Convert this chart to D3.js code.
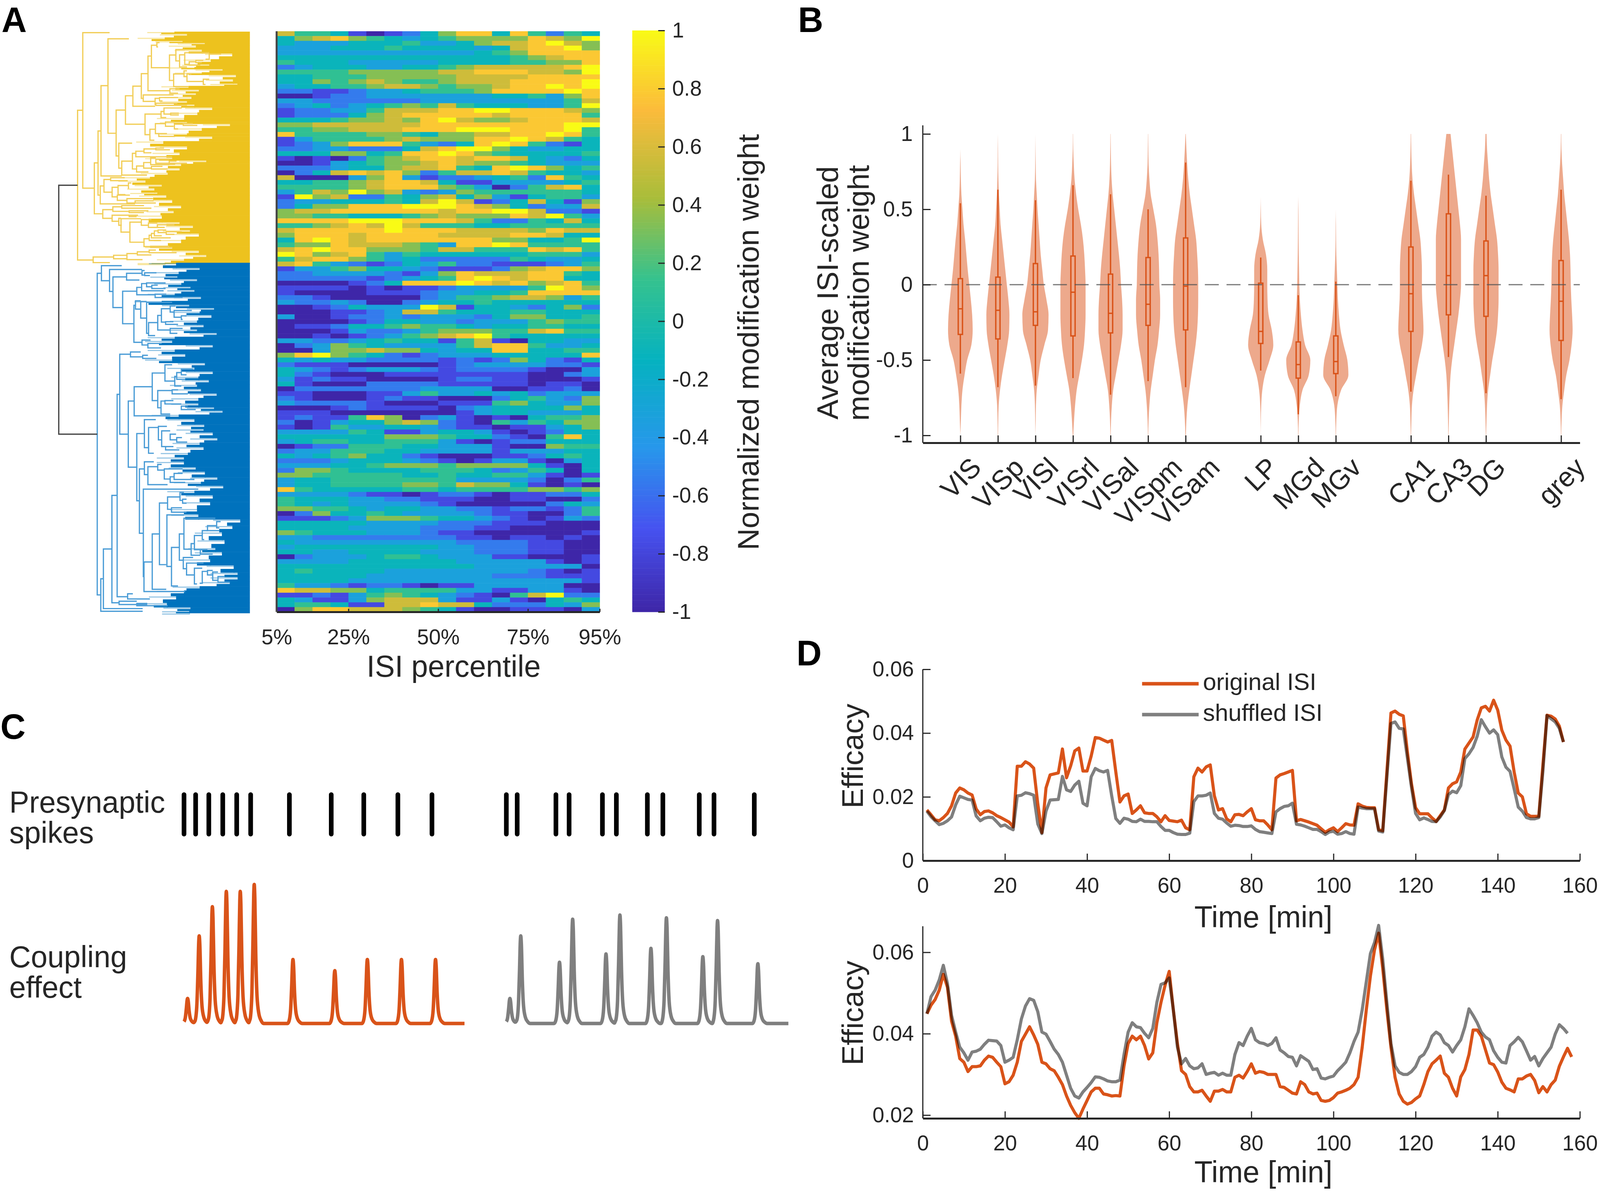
<!DOCTYPE html>
<html lang="en">
<head>
<meta charset="UTF-8">
<title>ISI modification weight figure</title>
<script src="https://cdnjs.cloudflare.com/ajax/libs/d3/7.8.5/d3.min.js"></script>
<style>
  html, body { margin: 0; background: #fff; overflow: hidden; }
  svg { display: block; }
  text { font-family: "Liberation Sans", Arial, sans-serif; }
</style>
</head>
<body>
<script>
// ---- panel A: heatmap, one string per row, one digit per ISI bin (0 = -1 ... 9 = +1)
var heatPercentiles = [5, 10, 15, 20, 25, 30, 35, 40, 45, 50, 55, 60, 65, 70, 75, 80, 85, 90];
var heatRows = [
  "755410124688485254", "467865434566668769", "433344453346778976", "333444544443478896",
  "333333333334568888", "444444444444456788", "544433333444455668", "234443344567777789",
  "555566666778887769", "445556666677778888", "446567655677788889", "344556776566788989",
  "221123345556888898", "001223333333445368", "332222223333333357", "234234565754443359",
  "122335777889988876", "122246788888788885", "444566768976678887", "667777778888888899",
  "556677788899988895", "855556654667788985", "135555676668898754", "123688853248985214",
  "223322247899643344", "444664588986544445", "101025678878874324", "001345667876654333",
  "222344677854898645", "024787862577875443", "700036831223452854", "445567887411333345",
  "555567888653025784",
  "357696732365555554", "196722546746314553", "233444547971247416", "246688899987642337",
  "677888888788997221", "665544456766687953", "888899988875225474", "556787975554455555",
  "788888988877776877", "688878888777788744", "489878888888664459", "566877765388985555",
  "789886665775558785", "986785354444445553", "578865342222254334", "785321243522111235",
  "133564432111267886", "223333213687778854", "222221234589878844", "000012488898786785",
  "111101011233335986", "100001112334458888", "221000002355677635", "322320023445444444",
  "001243339714432462", "000112377544455444", "300122323332466445", "000012443323335655",
  "011244565543445544", "000132235666557855",
  "001012356789544444", "332234544157104433", "023654333357885334", "003667664344884455",
  "689654212333444448", "434332222121264214", "211100000123333221", "432123332122221003",
  "421000111111110023", "312110000122110001", "410002222111110110", "022222223333001120",
  "110001135334342333", "210001211000245326", "322221000111564336", "000121111023444464",
  "111000000013443334", "121158602310104556", "201344676210535466", "101533443211011346",
  "333354113443101244", "444444666544210584", "345544555310122444", "012255544333100655",
  "233555443333133344", "434564421000112454", "222344432101331034", "333445666566664104",
  "266544445554235404", "665555544544553101",
  "344555555533332025", "344555566576641010", "854444455455556656", "333321101221011224",
  "544433221110011002", "543433332100000243", "665543443322122125", "026445433332110025",
  "111236665443210132", "444443333222111000", "444433332221100000", "654443332110000001",
  "332222222211011010", "433333333322221100", "344444444332221100", "443344443332221100",
  "023334554333110001", "333344444433333101", "444444444443333330", "454444333333332101",
  "444443333333222111", "444433333333333331", "533212210113333300", "877664555533113310",
  "112135654321057922", "431136777311310454", "455411778774222436", "068877765410011103"
];
var heatTicks = [5, 25, 50, 75, 95];
var colorbarTicks = [1, 0.8, 0.6, 0.4, 0.2, 0, -0.2, -0.4, -0.6, -0.8, -1];
var parulaPos = [0, 0.14, 0.28, 0.43, 0.57, 0.71, 0.86, 1];
var parulaStops = ["#3E26A8", "#4652F0", "#2797EB", "#05B2C0", "#35C28E", "#A9BD3A", "#FBBB3B", "#F9FB15"];

// dendrogram links: [join, upper leaf, upper child, lower leaf, lower child], in picture-read tree units
var yellowLinks = [
  [262,498,297,1357,367],[297,53,478,945,375],[375,800,400,1092,432],[400,617,420,985,415],[420,357,467,875,560],
  [467,88,608,630,522],[522,497,585,760,540],[585,415,635,578,717],[635,360,692,475,785],[692,288,737,430,705],
  [737,187,760,386,885],[760,125,797,254,882],[797,110,815,135,805],[882,181,925,327,910],[925,150,985,215,950],
  [950,180,985,250,1000],[985,168,1150,235,1015],[910,290,980,362,1010],[980,272,1000,305,1000],[1000,290,1030,333,1110],
  [1110,320,1150,350,1125],[1015,220,1060,238,1090],[1060,212,1110,225,1100],[1150,175,1230,205,1125],
  [885,375,950,400,940],[705,410,910,447,785],[785,430,815,465,790],[815,425,940,445,835],[790,458,935,470,1000],
  [717,520,825,638,750],[825,505,845,540,860],[845,485,965,520,890],[890,515,945,525,945],[750,607,787,670,780],
  [787,575,855,632,810],[855,565,915,590,910],[915,578,975,605,940],[975,575,1040,585,1070],[810,632,865,648,920],
  [540,687,630,830,560],[560,790,632,870,730],[632,745,655,835,660],[655,733,710,765,900],[710,720,790,742,760],
  [790,715,845,725,885],[660,818,708,852,740],[708,798,755,830,760],[755,772,790,810,880],[790,780,880,802,1000],
  [880,790,930,808,920],[760,820,835,835,870],[415,932,440,1035,650],[440,895,485,968,495],[485,885,580,902,600],
  [495,940,535,995,530],[535,930,605,982,585],[605,915,625,945,610],[530,985,615,1015,595],[595,1005,770,1030,650],
  [650,1018,775,1030,790],[432,1068,500,1118,495],[500,1052,560,1078,610],[560,1045,710,1060,760],[610,1075,740,1085,710],
  [495,1100,610,1135,540],[610,1100,670,1108,660],[540,1118,555,1158,560],[555,1120,690,1197,615],[692,1125,760,1158,740],
  [740,1145,800,1170,810],[800,1155,915,1170,850],[615,1140,692,1255,710],[710,1235,745,1280,755],[745,1215,760,1245,825],
  [760,1205,780,1230,890],[780,1190,805,1218,830],[805,1185,860,1200,860],[860,1195,965,1210,915],[755,1278,880,1285,900],
  [367,1340,505,1372,480],[505,1330,595,1350,595],[595,1320,665,1355,700],[665,1310,745,1328,760],[745,1300,790,1315,930]
];
var blueLinks = [
  [358,52,390,1487,385],[390,18,545,85,452],[452,35,700,133,478],[478,68,582,205,552],[582,52,700,82,680],
  [700,40,720,60,715],[720,50,810,62,760],[552,132,660,277,638],[660,115,697,148,800],[697,98,735,130,865],
  [735,95,880,112,775],[775,105,820,120,880],[800,145,885,160,1010],[638,195,650,360,700],[650,175,690,212,690],
  [690,178,735,252,735],[735,182,930,320,750],[750,272,820,330,800],[820,240,848,305,915],[848,210,915,270,880],
  [915,198,955,225,945],[945,218,1080,248,1000],[1000,242,1040,258,1010],[880,268,940,280,975],[915,298,1010,320,970],
  [700,350,765,372,745],[745,365,850,385,845],[385,1415,405,1560,705],[405,1282,470,1548,705],[470,1043,510,1522,525],
  [510,592,530,1495,590],[530,413,612,770,595],[612,403,690,425,705],[705,418,745,432,810],[595,622,640,917,660],
  [640,558,778,688,915],[778,497,875,620,820],[875,460,930,533,950],[950,512,965,555,1000],[965,495,1000,525,1030],
  [1000,480,1090,505,1040],[820,575,930,652,845],[930,572,975,590,1050],[845,622,875,680,915],[875,620,940,635,1000],
  [1000,645,1050,660,1110],[660,767,718,1067,680],[718,705,805,830,750],[750,740,825,855,790],[825,735,890,795,850],
  [850,755,915,825,880],[915,770,960,795,965],[965,785,1005,805,1045],[880,825,940,840,985],[680,925,718,1212,710],
  [718,893,790,950,745],[745,915,820,995,895],[820,905,850,930,870],[870,925,1010,970,915],[915,960,945,985,1030],
  [945,945,1010,972,1100],[710,1015,1130,1405,715],[715,1340,778,1472,1030],[778,1215,833,1462,885],[833,1077,895,1352,885],
  [895,1050,990,1105,925],[990,1030,1020,1065,1010],[1010,1060,1040,1078,1040],[925,1098,1005,1118,1040],[890,1130,1020,1360,925],
  [925,1275,985,1447,975],[985,1215,1020,1332,1015],[1020,1145,1260,1283,1075],[1075,1258,1100,1310,1145],[1100,1222,1160,1285,1160],
  [1160,1200,1200,1240,1175],[1200,1178,1270,1200,1290],[1270,1160,1300,1188,1290],[1145,1285,1200,1305,1240],[1015,1320,1090,1370,1040],
  [1040,1345,1170,1398,1100],[1100,1368,1160,1438,1120],[1160,1382,1200,1435,1140],[1200,1378,1240,1398,1240],[1240,1385,1280,1422,1280],
  [1280,1405,1330,1430,1370],[590,1482,630,1505,760],[525,1515,660,1530,740],[660,1525,740,1535,895]
];
// where the leaves close up into solid colour: [leaf, tree depth]
var yellowFan = [[47,915],[60,1000],[80,850],[100,970],[112,1120],[125,1060],[150,1100],[172,1305],[205,1160],[235,1150],[250,1050],
  [262,1240],[280,1100],[295,1330],[320,1310],[345,1340],[358,1010],[380,1080],[400,1060],[420,1030],[445,1000],[465,1050],[482,1170],
  [510,1070],[540,980],[565,1000],[576,1290],[600,1100],[630,1000],[648,1170],[675,840],[705,1000],[740,950],[770,900],[786,1130],
  [805,960],[830,950],[855,870],[880,750],[900,720],[925,830],[945,780],[970,800],[985,860],[1012,900],[1045,960],[1075,910],[1100,830],
  [1140,950],[1160,1040],[1185,1020],[1205,1080],[1240,960],[1280,900],[1303,1080],[1328,1130],[1350,980],[1372,850],[1378,850]];
var blueFan = [[5,960],[28,1140],[45,980],[65,970],[78,1120],[95,1000],[112,1070],[126,1100],[142,950],[157,1150],[175,850],[192,1060],
  [207,1250],[222,1140],[238,1230],[262,1120],[282,1170],[302,1120],[318,1270],[335,950],[352,930],[372,1240],[392,950],[412,1030],
  [435,930],[452,1180],[472,1100],[490,1240],[512,1130],[528,1210],[548,1120],[568,1150],[588,1270],[608,1130],[632,1130],[650,1250],
  [665,1315],[682,980],[702,1100],[727,1175],[747,1170],[762,1240],[787,1275],[807,1140],[827,1170],[852,1050],[872,1020],[892,1020],
  [917,1110],[937,1180],[962,1275],[982,1150],[1000,1320],[1022,1100],[1042,1240],[1072,1220],[1102,1120],[1127,1130],[1150,1450],
  [1178,1390],[1207,1310],[1242,1330],[1277,1260],[1295,1310],[1327,1220],[1355,1400],[1387,1430],[1407,1430],[1428,1370],[1448,1140],
  [1467,1020],[1492,960],[1522,890],[1542,1070],[1558,1060],[1568,1060]];
// joins between the two clusters: [tree depth, leaf] in the yellow and the blue tree units
var rootJoinYellow = [262, 928], rootJoinBlue = [358, 770], rootStem = 135;

// ---- panel B
var regions = ["VIS", "VISp", "VISl", "VISrl", "VISal", "VISpm", "VISam", "LP", "MGd", "MGv", "CA1", "CA3", "DG", "grey"];
var regionPos = [1, 2, 3, 4, 5, 6, 7, 9, 10, 11, 13, 14, 15, 17];
var weightTicks = [-1, -0.5, 0, 0.5, 1];
var weightGrid = [1, .9, .8, .7, .6, .5, .4, .3, .2, .1, 0, -.1, -.2, -.3, -.4, -.5, -.6, -.7, -.8, -.9, -1];
var violinVIS   = [0, 0, .5, 1, 2, 4, 6, 9, 11.5, 14, 17, 20, 22.5, 23.5, 21, 13, 8, 4, 2, 1, 0];
var violinVISp  = [0, .3, .5, 1, 2, 3.5, 5, 8, 11, 14, 17, 20, 22, 21.5, 18, 13, 8, 4, 1.5, .7, .3];
var violinVISl  = [0, .2, .5, 1, 2.5, 4, 6, 8, 10, 13, 16, 21, 25, 24, 17, 10, 6, 2.5, 1, .5, 0];
var violinVISrl = [.2, .5, 1.5, 3, 6, 10, 15, 19, 21.5, 23, 24, 24, 24, 23, 21, 17, 12, 7, 4, 2, .5];
var violinVISal = [.2, .5, 1, 2, 4, 7, 10, 13, 16, 18.5, 20, 22, 23, 23, 20, 15, 10, 5, 2.5, 1, .3];
var violinVISpm = [.2, .5, 1, 2.5, 5, 10, 15, 18, 20, 21, 21.5, 23, 23, 21, 18, 13, 9, 5, 2.5, 1, .3];
var violinVISam = [.3, 1.5, 3, 5, 8, 12, 16, 20, 22, 23.5, 24, 24, 23.5, 22, 19, 15, 11, 7, 3.5, 1.5, .5];
var violinLP    = [0, 0, 0, 0, 0, .3, 1, 4, 10, 12.5, 12.5, 13, 15, 21, 24, 17, 8, 3, 1, .3, 0];
var violinMGd   = [0, 0, 0, 0, 0, .3, .5, .7, 1, 1.5, 2, 3, 5, 8, 13, 23, 20, 8, 3, 1, .3];
var violinMGv   = [0, 0, 0, 0, 0, 0, .3, .5, 1, 2, 3, 4, 6, 9, 15, 22, 24, 10, 3, 1, .3];
var violinCA1   = [.3, .7, 1.5, 3, 6, 10, 14, 18, 20, 21, 21, 21.5, 23, 24, 21, 15, 10, 5, 2, 1, .3];
var violinCA3   = [4, 7, 10, 13, 16, 19, 22, 24, 24, 24, 24, 22, 19, 15, 11, 7, 4, 2.5, 1.5, .8, .3];
var violinDG    = [1, 2, 4, 6, 9, 13, 17, 21, 23, 24, 24, 24, 23, 21, 17, 12, 8, 4, 2, 1, .3];
var violingrey  = [.3, .7, 2, 4, 6, 9, 12, 15, 17, 18, 18.5, 19.5, 21, 22, 20, 16, 10, 6, 2.5, 1, .3];
var violins = [violinVIS, violinVISp, violinVISl, violinVISrl, violinVISal, violinVISpm, violinVISam,
  violinLP, violinMGd, violinMGv, violinCA1, violinCA3, violinDG, violingrey];
var boxQ3     = [.04, .05, .14, .19, .07, .18, .31, .01, -.38, -.34, .25, .47, .29, .16];
var boxMedian = [-.16, -.17, -.18, -.05, -.19, -.13, -.01, -.31, -.53, -.51, -.06, .06, .06, -.11];
var boxQ1     = [-.33, -.36, -.27, -.34, -.32, -.27, -.30, -.39, -.62, -.59, -.31, -.20, -.21, -.37];
var whiskLow  = [-.59, -.68, -.67, -.62, -.73, -.64, -.68, -.57, -.86, -.74, -.71, -.48, -.72, -.76];
var whiskHigh = [.54, .63, .56, .66, .60, .50, .81, .18, -.07, .02, .69, .73, .59, .63];

// ---- panel C, times in ms
var spikesBurst   = [0, 7.5, 16, 25, 34, 43, 68, 95, 116, 138, 160];
var spikesShuffle = [208, 215, 240, 248.5, 270, 279, 299, 309, 332.5, 342, 368];
var couplingBurst   = [.18, .63, .84, .95, .95, 1, .46, .38, .46, .46, .46];
var couplingShuffle = [.18, .63, .44, .75, .50, .78, .54, .76, .48, .74, .43];
var kernelTime  = [-3.5, -2.5, -1.5, -.8, -.3, 0, .4, 1, 1.8, 3, 4.5, 6];
var kernelShape = [0, .04, .22, .6, .93, 1, .9, .5, .2, .07, .02, 0];

// ---- panel D, one value per minute from minute 1
var effOrigTop = [.0159,.0144,.0128,.0125,.0135,.0148,.0172,.0212,.0228,.0222,.0212,.0206,.0162,.0144,.0154,.0156,.015,.0141,.0135,.0128,
  .0121,.0106,.0296,.0296,.031,.0303,.029,.0178,.0088,.0228,.0269,.0272,.0275,.035,.026,.0297,.0344,.0353,.0281,.0281,
  .0328,.0386,.0384,.0378,.0372,.0377,.0278,.0184,.0203,.0209,.0148,.0159,.0172,.015,.0148,.0148,.01375,.0122,.0141,.0126,
  .0124,.0122,.0127,.0103,.0097,.0263,.029,.0278,.0294,.03,.0203,.0159,.0163,.0131,.0122,.0144,.0145,.0141,.0153,.0163,
  .0128,.0125,.0125,.0112,.0097,.0259,.0269,.0273,.0278,.0283,.0125,.0129,.0125,.0121,.0116,.0111,.01,.0089,.0097,.0103,
  .0091,.0103,.0116,.0112,.0111,.0178,.0171,.0167,.0166,.0166,.0097,.0094,.0278,.0463,.0469,.0459,.0454,.0341,.0241,.0166,
  .0147,.0147,.0147,.0134,.0123,.0141,.0159,.0228,.0241,.0247,.0278,.035,.0369,.0388,.0441,.0479,.0484,.0469,.0503,.0472,
  .0409,.0378,.0359,.0278,.0212,.02,.0147,.0139,.0139,.0139,.03,.0456,.0453,.0444,.0422,.0372];
var effShufTop = [.0155,.0138,.0125,.0113,.0117,.0125,.0137,.0175,.0202,.0197,.0192,.019,.014,.0125,.0133,.0136,.0135,.0122,.0108,.0112,
  .0103,.0097,.0203,.0205,.0213,.021,.0205,.0115,.0085,.0155,.019,.0191,.0192,.0264,.0222,.0217,.0237,.0249,.018,.0172,
  .0263,.0289,.0282,.0278,.0283,.0203,.0132,.0117,.0133,.013,.0123,.0122,.013,.0123,.0123,.0122,.0122,.0107,.0095,.0095,
  .0088,.0083,.0082,.0082,.0086,.0185,.0203,.0203,.0205,.0212,.0148,.0133,.013,.0118,.0108,.0111,.011,.0107,.0107,.0109,
  .0098,.0091,.0089,.0087,.0085,.0153,.0163,.017,.0172,.018,.0114,.0112,.0108,.0103,.0098,.0098,.0091,.0082,.009,.0092,
  .0083,.0085,.0091,.0085,.0083,.0168,.0165,.0163,.0163,.0163,.0093,.009,.026,.043,.0435,.0415,.0413,.0322,.023,.0148,
  .0128,.0134,.0129,.0123,.0122,.0137,.0157,.0207,.0218,.0213,.0235,.032,.0335,.0355,.039,.0442,.042,.04,.041,.0395,
  .0325,.0293,.028,.0225,.0168,.0155,.0135,.0131,.0131,.0135,.028,.0455,.0445,.0435,.0415,.0372];
var effOrigBottom = [.0449,.047,.0484,.0507,.0546,.0514,.0431,.0394,.0339,.033,.0307,.0319,.0319,.0321,.0335,.0345,.0342,.033,.0319,.0277,
  .0282,.0298,.033,.0381,.0399,.0417,.0397,.0374,.033,.0326,.0314,.0309,.0293,.0275,.0247,.0224,.0206,.0192,.0215,.0236,
  .0257,.0266,.0266,.0252,.025,.0247,.0248,.0247,.0321,.0376,.0394,.0385,.0394,.0371,.0338,.0353,.0427,.0477,.0519,.0553,
  .0459,.0376,.0309,.03,.027,.0257,.0257,.0261,.0247,.0234,.0259,.0259,.0263,.0257,.0257,.0293,.0298,.0291,.0307,.0326,
  .0303,.0307,.0305,.03,.03,.03,.027,.0268,.0261,.0254,.0252,.0282,.0275,.0257,.0252,.0254,.0236,.0234,.0236,.0243,
  .0254,.0257,.0261,.0266,.0275,.0293,.0367,.0459,.0542,.0606,.0647,.056,.0459,.0367,.0293,.0252,.0234,.0227,.0231,.024,
  .0247,.0275,.0307,.0326,.0335,.0345,.0303,.0293,.0266,.0247,.0294,.0312,.0349,.0409,.0409,.0394,.0361,.0328,.0324,.0306,
  .0281,.0266,.0262,.0257,.0289,.0289,.0296,.03,.0285,.0255,.027,.0257,.0275,.0286,.032,.0343,.0364,.0343];
var effShufBottom = [.0449,.0491,.0507,.0532,.0568,.0523,.0445,.0404,.0367,.0353,.0335,.0355,.0357,.0362,.0374,.0384,.0383,.0382,.0371,.033,
  .0335,.0342,.0385,.0436,.0468,.0486,.0482,.0454,.0404,.0399,.0381,.0362,.0349,.033,.0298,.0266,.0247,.0242,.0257,.0268,
  .028,.0294,.0293,.0289,.0284,.0282,.0282,.0286,.0349,.0404,.0427,.0417,.0415,.0401,.039,.0413,.0477,.0521,.0525,.0537,
  .0459,.0367,.0326,.0339,.0321,.0314,.0316,.0326,.03,.0303,.0305,.0298,.0303,.0298,.0298,.0349,.0378,.0371,.0394,.0413,
  .0385,.0378,.0376,.0371,.0376,.039,.036,.0353,.0344,.0342,.0321,.0346,.0339,.0332,.0312,.0314,.0291,.0289,.0293,.0296,
  .0309,.0319,.033,.0353,.0381,.0404,.0459,.0528,.0597,.0624,.0666,.0583,.0477,.0376,.0321,.0305,.03,.03,.0307,.0319,
  .0342,.0349,.0367,.0394,.0404,.0397,.0378,.0371,.0355,.0371,.0385,.0417,.0461,.0445,.0427,.0404,.0392,.0385,.0358,.0342,
  .033,.0328,.0371,.038,.0391,.038,.0358,.0335,.0344,.0321,.0339,.0353,.0367,.0399,.0422,.0413,.0401];
var timeTicks = [0, 20, 40, 60, 80, 100, 120, 140, 160];
var efficacyTicksTop = [0, 0.02, 0.04, 0.06];
var efficacyTicksBottom = [0.02, 0.04, 0.06];
var legendLabels = ["original ISI", "shuffled ISI"];

var orange = "#D95319", gray = "#7F7F7F", ink = "#262626";
var tickFont = 55, labelFont = 77;

// the browser window can come out narrower than asked for, so fit the 4130x3050 layout to it
var svg = d3.select("body").append("svg")
  .attr("width", window.innerWidth).attr("height", window.innerHeight)
  .attr("viewBox", "0 0 4130 3050").attr("preserveAspectRatio", "none");
svg.append("rect").attr("width", 4130).attr("height", 3050).attr("fill", "#fff");

function styleAxis(g, width) {
  g.attr("font-size", tickFont).attr("font-family", null);
  g.selectAll("path").attr("stroke", ink).attr("stroke-width", width);
  g.selectAll("line").attr("stroke", ink).attr("stroke-width", 3);
  g.selectAll("text").attr("fill", ink);
}
function axisLabel(text, x, y, rotate) {
  svg.append("text").text(text).attr("font-size", labelFont).attr("fill", ink).attr("text-anchor", "middle")
    .attr("transform", "translate(" + x + "," + y + ")" + (rotate ? " rotate(-90)" : ""));
}
function panelLetter(text, x, y) {
  svg.append("text").text(text).attr("x", x).attr("y", y).attr("font-size", 90).attr("font-weight", "bold").attr("fill", "#000");
}
panelLetter("A", 4, 82);
panelLetter("B", 2060, 82);
panelLetter("C", 1, 1892);
panelLetter("D", 2056, 1704);

// ---- A: dendrogram
var yellowX = d3.scaleLinear().domain([0, 1568]).range([100, 700]);
var yellowY = d3.scaleLinear().domain([0, 1568]).range([60, 760]);
var blueX = d3.scaleLinear().domain([0, 1568]).range([130, 660]);
var blueY = d3.scaleLinear().domain([0, 1568]).range([670, 1570]);
var treeRight = 645;

function drawTree(links, fan, sx, sy, fill, lineColor) {
  var g = svg.append("g");
  var rows = d3.pairs(fan);
  // pale strands in front of the solid block
  g.selectAll("rect.strand").data(fan).enter().append("rect")
    .attr("x", function (d) { return sx(d[1]) - 70; })
    .attr("y", function (d) { return sy(d[0]) + 1; })
    .attr("width", 72).attr("height", 3).attr("fill", fill).attr("opacity", 0.4);
  g.selectAll("rect.fan").data(rows).enter().append("rect")
    .attr("x", function (d) { return sx(d[0][1]); })
    .attr("y", function (d) { return sy(d[0][0]); })
    .attr("width", function (d) { return treeRight - sx(d[0][1]); })
    .attr("height", function (d) { return sy(d[1][0]) - sy(d[0][0]) + 0.5; })
    .attr("fill", fill);
  // lower half of each row closes a little earlier, so the edge is jagged
  g.selectAll("rect.tongue").data(rows).enter().append("rect")
    .attr("x", function (d) { return sx(d[0][1]) - 34; })
    .attr("y", function (d) { return (sy(d[0][0]) + sy(d[1][0])) / 2; })
    .attr("width", 36)
    .attr("height", function (d) { return (sy(d[1][0]) - sy(d[0][0])) / 2 + 0.5; })
    .attr("fill", fill);
  var line = d3.line().x(function (p) { return sx(p[0]); }).y(function (p) { return sy(p[1]); });
  g.selectAll("path").data(links).enter().append("path")
    .attr("d", function (d) { return line([[d[2], d[1]], [d[0], d[1]], [d[0], d[3]], [d[4], d[3]]]); })
    .attr("fill", "none").attr("stroke", lineColor).attr("stroke-width", 3.2);
}
drawTree(yellowLinks, yellowFan, yellowX, yellowY, "#EDC21E", "#F2CE58");
drawTree(blueLinks, blueFan, blueX, blueY, "#0072BD", "#4A9CD6");
svg.append("path")
  .attr("d", d3.line()([
    [yellowX(rootJoinYellow[0]), yellowY(rootJoinYellow[1])],
    [yellowX(rootStem), yellowY(rootJoinYellow[1])],
    [yellowX(rootStem), blueY(rootJoinBlue[1])],
    [blueX(rootJoinBlue[0]), blueY(rootJoinBlue[1])]]))
  .attr("fill", "none").attr("stroke", "#444").attr("stroke-width", 3.2);

// ---- A: heatmap
var heatLeft = 714, heatRight = 1548, heatTop = 80, heatBottom = 1567;
var xPct = d3.scaleLinear().domain([5, 95]).range([heatLeft, heatRight]);
var yRow = d3.scaleBand().domain(d3.range(heatRows.length)).range([heatTop, heatBottom]);
var levelValue = d3.scaleLinear().domain([0, 9]).range([-1, 1]);
var parula = d3.scaleLinear().domain(parulaPos.map(function (p) { return -1 + 2 * p; })).range(parulaStops);

var rowG = svg.append("g").selectAll("g").data(heatRows).enter().append("g")
  .attr("transform", function (d, i) { return "translate(0," + yRow(i) + ")"; });
rowG.selectAll("rect").data(function (row) { return row.split("").map(Number); }).enter().append("rect")
  .attr("x", function (d, j) { return xPct(heatPercentiles[j]); })
  .attr("width", function (d, j) { return xPct(heatPercentiles[j] + 5) - xPct(heatPercentiles[j]) + 0.5; })
  .attr("height", yRow.bandwidth() + 0.5)
  .attr("fill", function (d) { return parula(levelValue(d)); });

var heatAxis = d3.axisBottom(xPct).tickValues(heatTicks).tickSize(-8).tickSizeOuter(0).tickPadding(44)
  .tickFormat(function (d) { return d + "%"; });
svg.append("g").attr("transform", "translate(0," + heatBottom + ")").call(heatAxis).call(styleAxis, 5);
svg.append("line").attr("x1", heatLeft).attr("x2", heatLeft).attr("y1", heatTop).attr("y2", heatBottom)
  .attr("stroke", "#444").attr("stroke-width", 5);
axisLabel("ISI percentile", 1171, 1733);

// ---- A: colorbar
var barY = d3.scaleLinear().domain([-1, 1]).range([1567, 78]);
var barLeft = 1632, barRight = 1716;
svg.append("g").selectAll("rect").data(d3.range(-1, 1, 0.01)).enter().append("rect")
  .attr("x", barLeft).attr("width", barRight - barLeft)
  .attr("y", function (d) { return barY(d + 0.01); })
  .attr("height", function (d) { return barY(d) - barY(d + 0.01) + 0.5; })
  .attr("fill", function (d) { return parula(d); });
var barAxis = d3.axisRight(barY).tickValues(colorbarTicks).tickSize(-17).tickPadding(19).tickFormat(String);
var barAxisG = svg.append("g").attr("transform", "translate(" + barRight + ",0)").call(barAxis).call(styleAxis, 0);
barAxisG.select("path").remove();
axisLabel("Normalized modification weight", 1958, 876, true);

// ---- B: violins
var xRegion = d3.scaleLinear().domain([0, 17.5]).range([2382, 4078]);
var yWeight = d3.scaleLinear().domain([-1, 1]).range([1115, 343]);
var halfWidth = d3.scaleLinear().domain([0, 24]).range([0, 32.5]);
var bAxisY = 1134, bAxisTop = 321;

var violinG = svg.append("g").selectAll("g").data(regions).enter().append("g")
  .attr("transform", function (d, i) { return "translate(" + xRegion(regionPos[i]) + ",0)"; });
var violinArea = d3.area()
  .y(function (d) { return yWeight(d.w); })
  .x0(function (d) { return -halfWidth(d.v); })
  .x1(function (d) { return halfWidth(d.v); })
  .curve(d3.curveMonotoneY);
violinG.append("path")
  .attr("d", function (d, i) {
    return violinArea(weightGrid.map(function (w, k) { return { w: w, v: violins[i][k] }; }));
  })
  .attr("fill", "#EDA98C");
violinG.append("line")
  .attr("y1", function (d, i) { return yWeight(whiskLow[i]); })
  .attr("y2", function (d, i) { return yWeight(whiskHigh[i]); })
  .attr("stroke", orange).attr("stroke-width", 3.5);
violinG.append("rect")
  .attr("x", -5.5).attr("width", 11)
  .attr("y", function (d, i) { return yWeight(boxQ3[i]); })
  .attr("height", function (d, i) { return yWeight(boxQ1[i]) - yWeight(boxQ3[i]); })
  .attr("fill", "#EDA98C").attr("stroke", orange).attr("stroke-width", 3.5);
violinG.append("line")
  .attr("x1", -5.5).attr("x2", 5.5)
  .attr("y1", function (d, i) { return yWeight(boxMedian[i]); })
  .attr("y2", function (d, i) { return yWeight(boxMedian[i]); })
  .attr("stroke", orange).attr("stroke-width", 3.5);

svg.append("line").attr("x1", xRegion(0)).attr("x2", xRegion(17.5)).attr("y1", yWeight(0)).attr("y2", yWeight(0))
  .attr("stroke", "#555").attr("stroke-opacity", 0.8).attr("stroke-width", 3).attr("stroke-dasharray", "36 20");

var bLeftG = svg.append("g").attr("transform", "translate(2382,0)")
  .call(d3.axisLeft(yWeight).tickValues(weightTicks).tickSize(-20).tickPadding(26).tickFormat(String))
  .call(styleAxis, 0);
bLeftG.select("path").remove();
svg.append("line").attr("x1", 2382).attr("x2", 2382).attr("y1", bAxisTop).attr("y2", bAxisY).attr("stroke", ink).attr("stroke-width", 3);

var bBottomG = svg.append("g").attr("transform", "translate(0," + bAxisY + ")")
  .call(d3.axisBottom(xRegion).tickValues(regionPos).tickSize(-19).tickSizeOuter(0)
    .tickFormat(function (d, i) { return regions[i]; }))
  .call(styleAxis, 5);
bBottomG.selectAll("text").attr("font-size", 70).attr("text-anchor", "middle").attr("y", 0).attr("dy", ".35em")
  .attr("transform", function () {
    var w = this.getComputedTextLength();
    return "translate(0," + (26 + 0.354 * w + 24) + ") rotate(-45)";
  });
axisLabel("Average ISI-scaled", 2163, 750, true);
axisLabel("modification weight", 2242, 750, true);

// ---- C: spike trains and coupling
var xTime = d3.scaleLinear().domain([0, 368]).range([475, 1947]);
var ySpike = d3.scaleLinear().domain([0, 1]).range([2136, 2035]);
var yCouple = d3.scaleLinear().domain([0, 1]).range([2621, 2265]);
var kernel = d3.scaleLinear().domain(kernelTime).range(kernelShape).clamp(true);

svg.append("g").selectAll("line").data(spikesBurst.concat(spikesShuffle)).enter().append("line")
  .attr("x1", xTime).attr("x2", xTime)
  .attr("y1", ySpike(0)).attr("y2", ySpike(1))
  .attr("stroke", "#000").attr("stroke-width", 12).attr("stroke-linecap", "round");

function couplingTrace(spikes, amps, t0, t1, color) {
  var delay = 2.3;
  var grid = [t0, t1];
  spikes.forEach(function (s) {
    kernelTime.forEach(function (k) { grid.push(s + delay + k); });
  });
  grid = grid.filter(function (t) { return t >= t0 && t <= t1; }).sort(d3.ascending);
  var points = grid.map(function (t) {
    return [t, d3.max(spikes, function (s, i) { return amps[i] * kernel(t - s - delay); })];
  });
  svg.append("path")
    .attr("d", d3.line().x(function (p) { return xTime(p[0]); }).y(function (p) { return yCouple(p[1]); }).curve(d3.curveMonotoneX)(points))
    .attr("fill", "none").attr("stroke", color).attr("stroke-width", 9).attr("stroke-linejoin", "round");
}
couplingTrace(spikesBurst, couplingBurst, 0, 181, orange);
couplingTrace(spikesShuffle, couplingShuffle, 208, 390, gray);

[["Presynaptic", 2081], ["spikes", 2159], ["Coupling", 2477], ["effect", 2555]].forEach(function (t) {
  svg.append("text").text(t[0]).attr("x", 24).attr("y", t[1]).attr("font-size", labelFont).attr("fill", ink);
});

// ---- D: efficacy traces
function efficacyPanel(orig, shuf, yScale, ticks, axisY, top) {
  var x = d3.scaleLinear().domain([0, 160]).range([2382, 4078]);
  var line = d3.line()
    .x(function (d, i) { return x(i + 1); })
    .y(function (d) { return yScale(d); });
  var traces = svg.append("g");
  traces.append("path").attr("d", line(orig)).attr("fill", "none").attr("stroke", orange)
    .attr("stroke-width", 8).attr("stroke-linejoin", "round");
  traces.append("path").attr("d", line(shuf)).attr("fill", "none").attr("stroke", gray)
    .attr("stroke-width", 8).attr("stroke-linejoin", "round").style("mix-blend-mode", "multiply");

  var leftG = svg.append("g").attr("transform", "translate(2382,0)")
    .call(d3.axisLeft(yScale).tickValues(ticks).tickSize(-20).tickPadding(23).tickFormat(String))
    .call(styleAxis, 0);
  leftG.select("path").remove();
  svg.append("line").attr("x1", 2382).attr("x2", 2382).attr("y1", top).attr("y2", axisY).attr("stroke", ink).attr("stroke-width", 3);
  svg.append("g").attr("transform", "translate(0," + axisY + ")")
    .call(d3.axisBottom(x).tickValues(timeTicks).tickSize(-18).tickSizeOuter(0).tickPadding(43))
    .call(styleAxis, 5);
}
var yEffTop = d3.scaleLinear().domain([0, 0.06]).range([2204, 1714]);
var yEffBottom = d3.scaleLinear().domain([0.0192, 0.0664]).range([2864, 2372]);
efficacyPanel(effOrigTop, effShufTop, yEffTop, efficacyTicksTop, 2204, 1714);
efficacyPanel(effOrigBottom, effShufBottom, yEffBottom, efficacyTicksBottom, 2864, 2372);
axisLabel("Time [min]", 3261, 2375);
axisLabel("Time [min]", 3261, 3028);
axisLabel("Efficacy", 2227, 1936, true);
axisLabel("Efficacy", 2227, 2594, true);

var legendG = svg.append("g").selectAll("g").data(legendLabels).enter().append("g")
  .attr("transform", function (d, i) { return "translate(0," + (1751 + i * 79) + ")"; });
legendG.append("line").attr("x1", 2948).attr("x2", 3094)
  .attr("stroke", function (d, i) { return i ? gray : orange; }).attr("stroke-width", 9);
legendG.append("text").text(function (d) { return d; }).attr("x", 3105).attr("y", 16)
  .attr("font-size", 62).attr("fill", ink);
</script>
</body>
</html>
